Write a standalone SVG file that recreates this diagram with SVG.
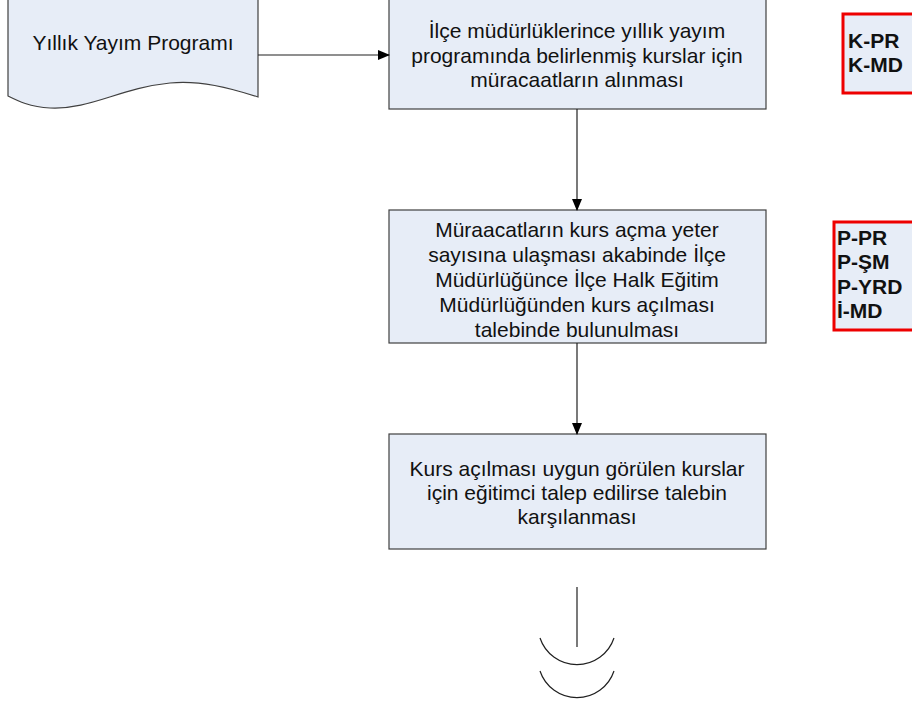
<svg xmlns="http://www.w3.org/2000/svg" width="912" height="709" viewBox="0 0 912 709">
<defs>
<style>
.box{fill:#E7EDF7;stroke:#404040;stroke-width:1.2}
.doc{fill:#E7EDF7;stroke:#404040;stroke-width:1.2}
.red{fill:#E7EDF7;stroke:#EE0000;stroke-width:3}
.t{font-family:"Liberation Sans",Arial,sans-serif;font-size:21px;fill:#111;text-anchor:middle}
.b{font-family:"Liberation Sans",Arial,sans-serif;font-size:21px;font-weight:bold;fill:#111}
.ln{stroke:#202020;stroke-width:1.2;fill:none}
</style>
<marker id="arr" markerWidth="12" markerHeight="12" refX="11" refY="6" orient="auto" markerUnits="userSpaceOnUse">
<path d="M0,1 L12,6 L0,11 Z" fill="#000"/>
</marker>
</defs>
<rect width="912" height="709" fill="#fff"/>
<g id="doc-yillik">
<path class="doc" d="M8,-2 L258,-2 L258,97 C230,88 200,80 170,83 C120,88 90,110 50,108 C30,107 18,101 8,96 Z"/>
<text class="t" x="133" y="50">Yıllık Yayım Programı</text>
</g>
<g id="box1">
<rect class="box" x="389" y="-2" width="377" height="111"/>
<text class="t" x="577" y="38">İlçe müdürlüklerince yıllık yayım</text>
<text class="t" x="577" y="63">programında belirlenmiş kurslar için</text>
<text class="t" x="577" y="87">müracaatların alınması</text>
</g>
<g id="box2">
<rect class="box" x="389" y="210" width="377" height="133"/>
<text class="t" x="577" y="237">Müraacatların kurs açma yeter</text>
<text class="t" x="577" y="262">sayısına ulaşması akabinde İlçe</text>
<text class="t" x="577" y="287">Müdürlüğünce İlçe Halk Eğitim</text>
<text class="t" x="577" y="312">Müdürlüğünden kurs açılması</text>
<text class="t" x="577" y="337">talebinde bulunulması</text>
</g>
<g id="box3">
<rect class="box" x="389" y="434" width="377" height="115"/>
<text class="t" x="577" y="476">Kurs açılması uygun görülen kurslar</text>
<text class="t" x="577" y="500">için eğitimci talep edilirse talebin</text>
<text class="t" x="577" y="524">karşılanması</text>
</g>
<g id="ref1">
<rect class="red" x="843" y="14" width="80" height="79"/>
<text class="b" x="848" y="48">K-PR</text>
<text class="b" x="848" y="72">K-MD</text>
</g>
<g id="ref2">
<rect class="red" x="834" y="222" width="90" height="108"/>
<text class="b" x="837" y="245">P-PR</text>
<text class="b" x="837" y="269">P-ŞM</text>
<text class="b" x="837" y="294">P-YRD</text>
<text class="b" x="837" y="318">İ-MD</text>
</g>
<g id="offpage">
<path class="ln" d="M540,638 A39,39 0 0 0 614,638"/>
<path class="ln" d="M540,671 A39,39 0 0 0 614,671"/>
</g>
<g id="connectors">
<line class="ln" x1="258" y1="55" x2="389" y2="55" marker-end="url(#arr)"/>
<line class="ln" x1="577" y1="109" x2="577" y2="210" marker-end="url(#arr)"/>
<line class="ln" x1="577" y1="343" x2="577" y2="434" marker-end="url(#arr)"/>
<line class="ln" x1="577" y1="587" x2="577" y2="647"/>
</g>
</svg>
